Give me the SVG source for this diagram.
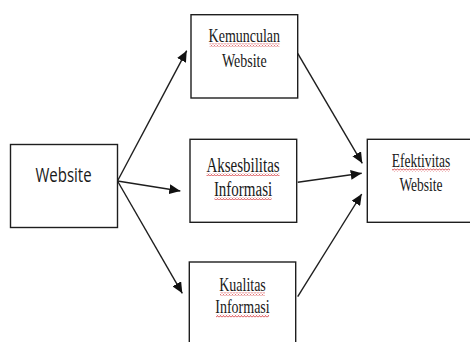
<svg xmlns="http://www.w3.org/2000/svg" width="470" height="342" viewBox="0 0 470 342">
<style>
.box{fill:#fff;stroke:#1e1e1e;stroke-width:1.4}
.serif{font-family:"Liberation Serif","Times New Roman",serif;fill:#1a1a1a;text-anchor:middle}
.sans{font-family:"Open Sans","Liberation Sans",Arial,sans-serif;fill:#1a1a1a;text-anchor:middle}
.edge{fill:none;stroke:#1e1e1e;stroke-width:1.4;marker-end:url(#ah)}
.sq{fill:url(#wave)}
</style>
<defs>
<marker id="ah" markerUnits="userSpaceOnUse" markerWidth="12" markerHeight="10" refX="11" refY="5" orient="auto">
<path d="M0,0 L11,5 L0,10 Z" fill="#111"/>
</marker>
<pattern id="wave" patternUnits="userSpaceOnUse" width="3" height="3">
<path d="M0,2.5 L1.5,0.5 L3,2.5" fill="none" stroke="#d0242a" stroke-width="0.8"/>
</pattern>
</defs>
<rect width="470" height="342" fill="#fff"/>
<g id="connectors">
<path class="edge" d="M117.5,181 L186.7,50.7"/>
<path class="edge" d="M117.5,181 L180.3,191"/>
<path class="edge" d="M117.5,181 L182.3,293.3"/>
<path class="edge" d="M297.7,53.3 L362.3,163.3"/>
<path class="edge" d="M297.7,182.3 L361.7,173.3"/>
<path class="edge" d="M297.7,296.7 L361.7,194"/>
</g>
<g id="website">
<rect class="box" x="10.5" y="144.5" width="107" height="83"/>
<text class="sans" font-size="15" transform="translate(63.5,182) scale(1,1.3)">Website</text>
</g>
<g id="kemunculan">
<rect class="box" x="191" y="14.7" width="106.7" height="83.3"/>
<text class="serif" font-size="14" transform="translate(244.3,42) scale(1,1.3)">Kemunculan</text>
<rect class="sq" x="209.5" y="43.5" width="70" height="3"/>
<text class="serif" font-size="14" transform="translate(244.3,67) scale(1,1.3)">Website</text>
</g>
<g id="aksesbilitas">
<rect class="box" x="190" y="139.3" width="106.7" height="83"/>
<text class="serif" font-size="15" transform="translate(243,171.5) scale(1,1.35)">Aksesbilitas</text>
<rect class="sq" x="206.5" y="173" width="73" height="3"/>
<text class="serif" font-size="15" transform="translate(243,195.5) scale(1,1.35)">Informasi</text>
<rect class="sq" x="214.5" y="197" width="57" height="3"/>
</g>
<g id="kualitas">
<rect class="box" x="189.3" y="262" width="106.4" height="90"/>
<text class="serif" font-size="14" transform="translate(242.5,291) scale(1,1.35)">Kualitas</text>
<rect class="sq" x="220" y="292.5" width="45" height="3"/>
<text class="serif" font-size="14" transform="translate(242.5,313) scale(1,1.35)">Informasi</text>
<rect class="sq" x="216" y="314.5" width="53" height="3"/>
</g>
<g id="efektivitas">
<rect class="box" x="367.3" y="139.3" width="110" height="83"/>
<text class="serif" font-size="13.5" transform="translate(421,167) scale(1,1.4)">Efektivitas</text>
<rect class="sq" x="392" y="168.5" width="58" height="3"/>
<text class="serif" font-size="13.5" transform="translate(421,191) scale(1,1.4)">Website</text>
</g>
</svg>
